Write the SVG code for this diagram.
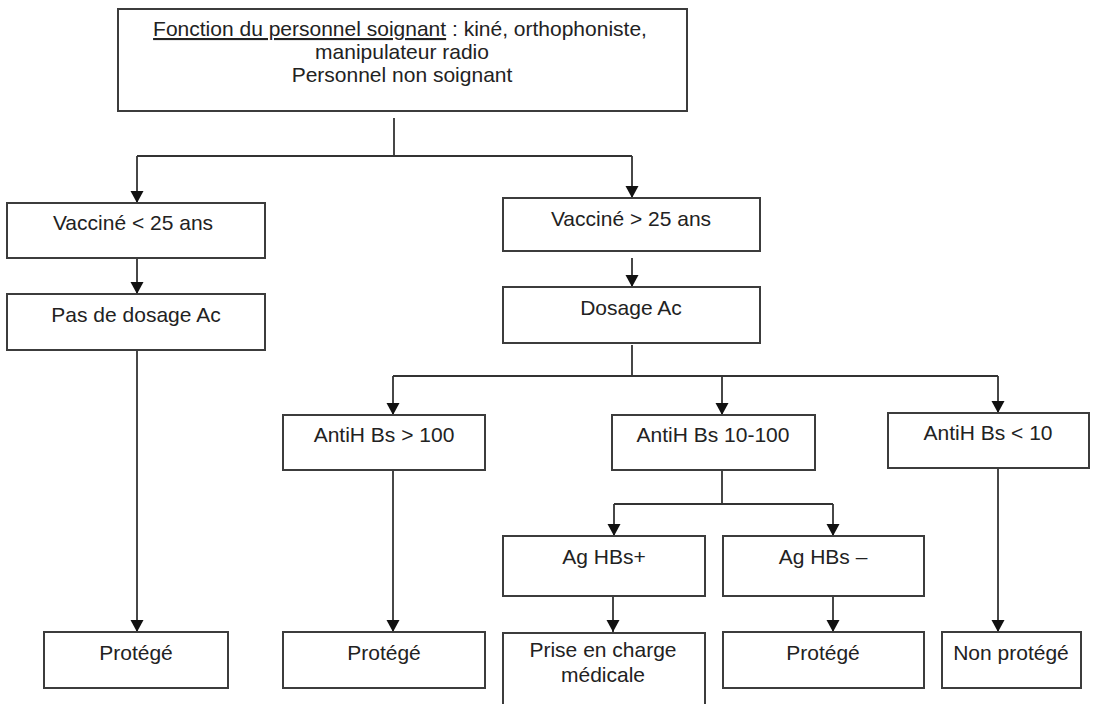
<svg xmlns="http://www.w3.org/2000/svg" width="1095" height="704" viewBox="0 0 1095 704">
<style>
.box{fill:#fff;stroke:#3c3c3c;stroke-width:2}
.t{font-family:"Liberation Sans",Arial,sans-serif;font-size:21px;fill:#222;text-anchor:middle}
.c{fill:none;stroke:#333;stroke-width:1.8}
</style>
<defs>
<marker id="a" markerUnits="userSpaceOnUse" markerWidth="14" markerHeight="14" viewBox="0 0 14 14" refX="12" refY="7" orient="auto">
<path d="M0,0.5 L12,7 L0,13.5 Z" fill="#111"/>
</marker>
</defs>
<rect width="1095" height="704" fill="#fff"/>
<g id="connectors">
<path class="c" d="M394,118 V156 M137,156 H632"/>
<path class="c" d="M137,156 V203" marker-end="url(#a)"/>
<path class="c" d="M632,156 V198" marker-end="url(#a)"/>
<path class="c" d="M137,258 V294" marker-end="url(#a)"/>
<path class="c" d="M632,258 V287" marker-end="url(#a)"/>
<path class="c" d="M137,350 V632" marker-end="url(#a)"/>
<path class="c" d="M632,345 V376 M393,376 H998"/>
<path class="c" d="M393,376 V415" marker-end="url(#a)"/>
<path class="c" d="M722,376 V415" marker-end="url(#a)"/>
<path class="c" d="M998,376 V413" marker-end="url(#a)"/>
<path class="c" d="M393,470 V632" marker-end="url(#a)"/>
<path class="c" d="M722,471 V504 M614,504 H833"/>
<path class="c" d="M614,504 V536" marker-end="url(#a)"/>
<path class="c" d="M833,504 V536" marker-end="url(#a)"/>
<path class="c" d="M998,468 V632" marker-end="url(#a)"/>
<path class="c" d="M613,596 V632" marker-end="url(#a)"/>
<path class="c" d="M833,596 V632" marker-end="url(#a)"/>
</g>
<g id="top">
<rect class="box" x="118" y="9" width="569" height="102"/>
<text class="t" x="400" y="36"><tspan text-decoration="underline">Fonction du personnel soignant</tspan> : kiné, orthophoniste,</text>
<text class="t" x="402" y="59">manipulateur radio</text>
<text class="t" x="402" y="82">Personnel non soignant</text>
</g>
<g id="vaccine-lt25">
<rect class="box" x="7" y="203" width="258" height="55"/>
<text class="t" x="133" y="230">Vacciné &lt; 25 ans</text>
</g>
<g id="pas-dosage">
<rect class="box" x="7" y="294" width="258" height="56"/>
<text class="t" x="136" y="322">Pas de dosage Ac</text>
</g>
<g id="vaccine-gt25">
<rect class="box" x="503" y="198" width="257" height="53"/>
<text class="t" x="631" y="226">Vacciné &gt; 25 ans</text>
</g>
<g id="dosage">
<rect class="box" x="503" y="287" width="257" height="56"/>
<text class="t" x="631" y="315">Dosage Ac</text>
</g>
<g id="anti-gt100">
<rect class="box" x="283" y="415" width="202" height="55"/>
<text class="t" x="384" y="442">AntiH Bs &gt; 100</text>
</g>
<g id="anti-10-100">
<rect class="box" x="612" y="415" width="203" height="55"/>
<text class="t" x="713" y="442">AntiH Bs 10-100</text>
</g>
<g id="anti-lt10">
<rect class="box" x="888" y="413" width="201" height="55"/>
<text class="t" x="988" y="440">AntiH Bs &lt; 10</text>
</g>
<g id="ag-plus">
<rect class="box" x="503" y="536" width="202" height="60"/>
<text class="t" x="604" y="564">Ag HBs+</text>
</g>
<g id="ag-minus">
<rect class="box" x="723" y="536" width="201" height="60"/>
<text class="t" x="823" y="564">Ag HBs –</text>
</g>
<g id="protege-1">
<rect class="box" x="44" y="632" width="184" height="56"/>
<text class="t" x="136" y="660">Protégé</text>
</g>
<g id="protege-2">
<rect class="box" x="283" y="632" width="202" height="56"/>
<text class="t" x="384" y="660">Protégé</text>
</g>
<g id="prise">
<rect class="box" x="503" y="633" width="202" height="80"/>
<text class="t" x="603" y="657">Prise en charge</text>
<text class="t" x="603" y="682">médicale</text>
</g>
<g id="protege-3">
<rect class="box" x="723" y="632" width="201" height="56"/>
<text class="t" x="823" y="660">Protégé</text>
</g>
<g id="non-protege">
<rect class="box" x="942" y="632" width="139" height="56"/>
<text class="t" x="1011" y="660">Non protégé</text>
</g>
</svg>
